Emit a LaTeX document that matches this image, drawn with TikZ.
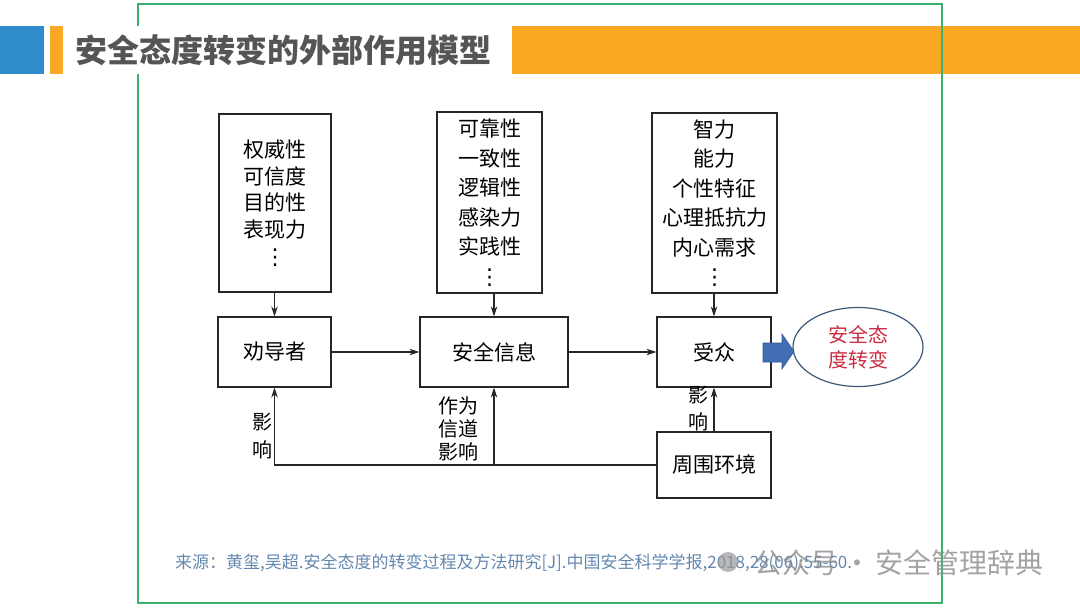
\documentclass[tikz,border=0pt]{standalone}
\usepackage{fontspec}
\setmainfont{Noto Sans CJK SC}
\newfontfamily\dvfont{DejaVu Sans}
\usetikzlibrary{arrows.meta,shapes.geometric}
\definecolor{barblue}{RGB}{46,140,205}
\definecolor{barorange}{RGB}{248,168,35}
\definecolor{framegreen}{RGB}{60,176,110}
\definecolor{titlegray}{RGB}{85,85,85}
\definecolor{citeblue}{RGB}{100,135,175}
\definecolor{goalred}{RGB}{200,45,65}
\definecolor{goalline}{RGB}{60,90,120}
\definecolor{arrowblue}{RGB}{65,110,180}
\newcommand{\vdotsmark}{{\dvfont\fontsize{22pt}{22pt}\selectfont ⋮}}
\begin{document}
\begin{tikzpicture}[x=1pt,y=-1pt,
  box/.style={draw=black!85, line width=1.2pt, inner sep=0pt, align=center, font=\fontsize{21pt}{27pt}\selectfont},
  arr/.style={-{Stealth[length=10pt,width=6.5pt]}, line width=1.1pt, draw=black!85},
  lbl/.style={inner sep=0pt, align=center},
  cite/.style={inner sep=0pt, text=citeblue, font=\fontsize{17pt}{20pt}\selectfont},
  wm/.style={inner sep=0pt, text=black!45, font=\fontsize{28pt}{32pt}\selectfont},
  frame/.style={draw=framegreen, line width=2.6pt}
]
\useasboundingbox (0,0) rectangle (1080,608);
% title bar
\fill[barblue] (0,26) rectangle (44,74);
\fill[barorange] (50,26) rectangle (63,74);
\fill[barorange] (512,26) rectangle (1080,74);
\draw[frame] (138,4) rectangle (942,603);
\fill[white] (63.5,26) rectangle (511.5,74);
\node[inner sep=0pt, anchor=west, text=titlegray, font=\fontsize{32pt}{36pt}\selectfont\bfseries] (title) at (75,50) {安全态度转变的外部作用模型};
% top boxes
\node[box, minimum width=112pt, minimum height=178pt, font=\fontsize{21pt}{26.7pt}\selectfont] (tA) at (275,203) {权威性\\可信度\\目的性\\表现力\\\vdotsmark};
\node[box, minimum width=105pt, minimum height=181pt, font=\fontsize{21pt}{29.5pt}\selectfont] (tB) at (489.5,202.5) {可靠性\\一致性\\逻辑性\\感染力\\实践性\\\vdotsmark};
\node[box, minimum width=125pt, minimum height=180pt, font=\fontsize{21pt}{29.5pt}\selectfont] (tC) at (714.5,203) {智力\\能力\\个性特征\\心理抵抗力\\内心需求\\\vdotsmark};
% row boxes
\node[box, minimum width=113pt, minimum height=70pt] (pers) at (274.5,352) {劝导者};
\node[box, minimum width=148pt, minimum height=70pt] (info) at (494,352) {安全信息};
\node[box, minimum width=114pt, minimum height=70pt] (aud) at (714,352) {受众};
\node[box, minimum width=114pt, minimum height=66pt] (env) at (714,465) {周围环境};
\node[ellipse, draw=goalline, line width=1.2pt, minimum width=130pt, minimum height=79pt, inner sep=0pt, align=center, text=goalred, font=\fontsize{20pt}{25pt}\selectfont] (goal) at (858,347) {安全态\\度转变};
% block arrow
\filldraw[fill=arrowblue, draw=arrowblue!80!black, line width=0.6pt] (763,343) -- (782,343) -- (782,334) -- (794,351.5) -- (782,369) -- (782,362) -- (763,362) -- cycle;
% connectors
\draw[arr] (tA.south -| pers.north) -- (pers.north);
\draw[arr] (tB.south -| info.north) -- (info.north);
\draw[arr] (tC.south -| aud.north) -- (aud.north);
\draw[arr] (pers) -- (info);
\draw[arr] (info) -- (aud);
\draw[arr] (env) -- (aud);
\draw[arr] (env.west) -| (pers.south);
\draw[arr] (env.west -| info.south) -- (info.south);
% labels
\node[lbl, font=\fontsize{20pt}{28pt}\selectfont] (l1) at (262,436) {影\\响};
\node[lbl, font=\fontsize{20pt}{23pt}\selectfont] (l2) at (458,429) {作为\\信道\\影响};
\node[lbl, font=\fontsize{20pt}{27pt}\selectfont] (l3) at (698,409) {影\\响};
% citation and watermark
\node[cite, anchor=west] (cite) at (175,563) {来源：黄玺,吴超.安全态度的转变过程及方法研究[J].中国安全科学学报,2018,28(06):55-60.};
\fill[black!40, opacity=0.7] (728,562) circle (10pt);
\node[wm, anchor=east, opacity=0.8] (wmk) at (1044,563) {公众号\,·\,安全管理辞典};
\end{tikzpicture}
\end{document}
